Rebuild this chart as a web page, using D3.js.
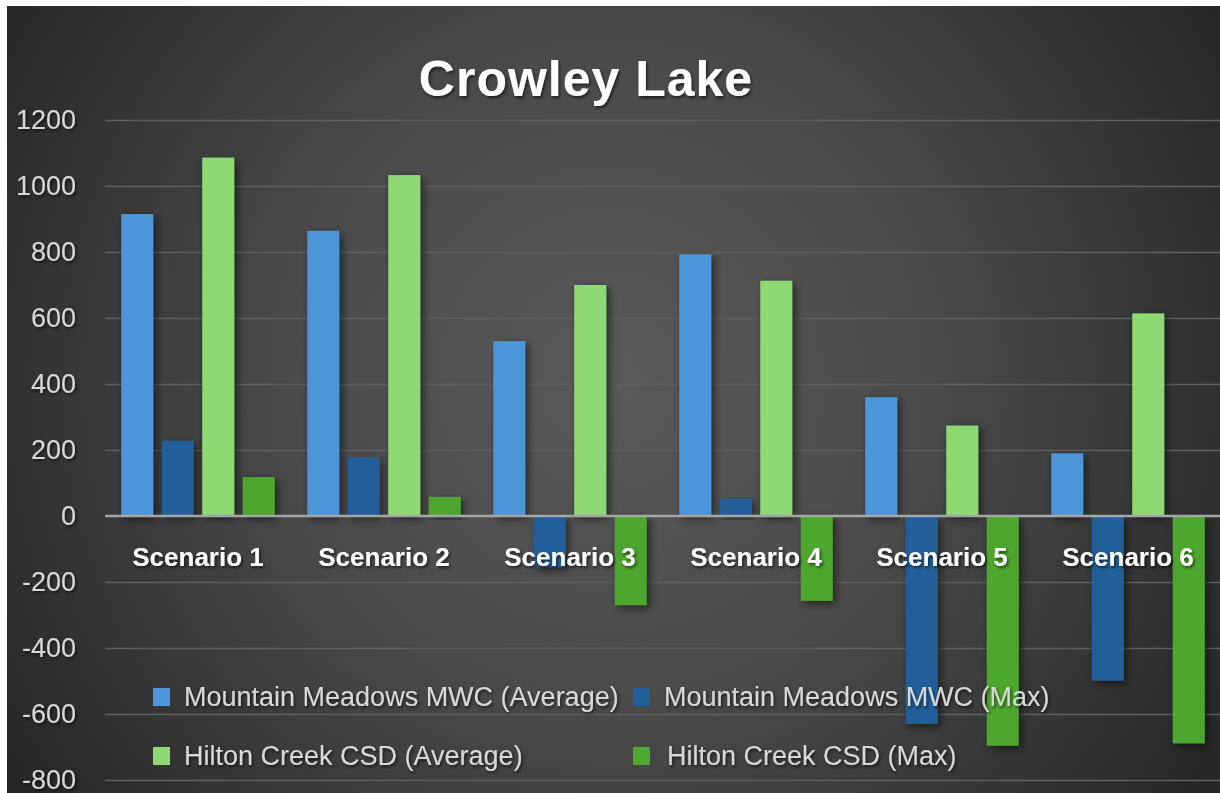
<!DOCTYPE html>
<html>
<head>
<meta charset="utf-8">
<script src="https://cdn.jsdelivr.net/npm/d3@7"></script>
<style>
  html, body { margin: 0; padding: 0; background: #ffffff; }
  svg { display: block; }
</style>
</head>
<body>
<svg id="chart" width="1220" height="793"></svg>
<script>
// ---- data ----
const categories = ["Scenario 1", "Scenario 2", "Scenario 3", "Scenario 4", "Scenario 5", "Scenario 6"];
const seriesNames = ["Mountain Meadows MWC (Average)", "Mountain Meadows MWC (Max)", "Hilton Creek CSD (Average)", "Hilton Creek CSD (Max)"];
const mmAverage = [915, 864, 530, 793, 360, 190];
const mmMax = [228, 177, -155, 52, -630, -499];
const hcAverage = [1086, 1033, 700, 713, 274, 614];
const hcMax = [118, 58, -270, -257, -696, -689];
const yTicks = [-800, -600, -400, -200, 0, 200, 400, 600, 800, 1000, 1200];
const seriesColors = ["#4e95d9", "#215f9a", "#8ed973", "#4ea72e"];
const title = "Crowley Lake";

const seriesValues = [mmAverage, mmMax, hcAverage, hcMax];

// ---- layout ----
const W = 1220, H = 793;
const plot = { left: 105, right: 1221, top: 120, bottom: 780 };

const svg = d3.select("#chart");
const defs = svg.append("defs");

const grad = defs.append("radialGradient")
  .attr("id", "bg").attr("gradientUnits", "userSpaceOnUse")
  .attr("cx", 610).attr("cy", 380).attr("r", 720);
grad.append("stop").attr("offset", "0%").attr("stop-color", "#5a5a5a");
grad.append("stop").attr("offset", "45%").attr("stop-color", "#4a4a4a");
grad.append("stop").attr("offset", "100%").attr("stop-color", "#262626");

const shadow = defs.append("filter").attr("id", "barShadow")
  .attr("x", "-30%").attr("y", "-10%").attr("width", "170%").attr("height", "130%");
shadow.append("feDropShadow").attr("dx", 3).attr("dy", 3).attr("stdDeviation", 4)
  .attr("flood-color", "#000").attr("flood-opacity", 0.55);

const tshadow = defs.append("filter").attr("id", "textShadow")
  .attr("x", "-10%").attr("y", "-20%").attr("width", "130%").attr("height", "150%");
tshadow.append("feDropShadow").attr("dx", 1.5).attr("dy", 2).attr("stdDeviation", 1.5)
  .attr("flood-color", "#000").attr("flood-opacity", 0.6);

// background
svg.append("rect").attr("x", 7).attr("y", 6).attr("width", W - 7).attr("height", H - 6)
  .attr("fill", "url(#bg)");

// scales
const y = d3.scaleLinear().domain([-800, 1200]).range([plot.bottom, plot.top]);
const x0 = d3.scaleBand().domain(categories).range([plot.left, plot.right])
  .paddingInner(0.175).paddingOuter(0.0875);
const x1 = d3.scaleBand().domain(d3.range(seriesNames.length)).range([0, x0.bandwidth()])
  .paddingInner(0.21).paddingOuter(0);

// gridlines
const yAxisGrid = d3.axisLeft(y).tickValues(yTicks).tickSize(-(plot.right - plot.left)).tickFormat("");
const grid = svg.append("g").attr("transform", `translate(${plot.left},0)`).call(yAxisGrid);
grid.select(".domain").remove();
grid.selectAll(".tick line").attr("stroke", "#5f5f5f").attr("stroke-width", 1.5)
  .attr("opacity", d => d === 0 ? 0 : 1);

// y tick labels
const yAxis = d3.axisLeft(y).tickValues(yTicks).tickSize(0).tickPadding(0).tickFormat(d => String(d));
const ya = svg.append("g").attr("transform", `translate(76,0)`).call(yAxis);
ya.select(".domain").remove();
ya.selectAll(".tick text")
  .attr("fill", "#d9d9d9")
  .attr("font-family", "'Liberation Sans', Arial, sans-serif")
  .attr("font-size", 27)
  .attr("filter", "url(#textShadow)");

// bars
const data = [];
categories.forEach((c, i) => {
  seriesValues.forEach((vals, s) => data.push({ cat: c, s, v: vals[i] }));
});

svg.append("g").selectAll("rect").data(data).join("rect")
  .attr("x", d => x0(d.cat) + x1(d.s))
  .attr("width", x1.bandwidth())
  .attr("y", d => y(Math.max(0, d.v)))
  .attr("height", d => Math.abs(y(d.v) - y(0)))
  .attr("fill", d => seriesColors[d.s])
  .attr("filter", "url(#barShadow)");

// zero line
svg.append("line")
  .attr("x1", plot.left).attr("x2", plot.right)
  .attr("y1", y(0)).attr("y2", y(0))
  .attr("stroke", "#a6a6a6").attr("stroke-width", 2.5);

// category labels
const xAxis = d3.axisBottom(x0).tickSize(0).tickPadding(0);
const xa = svg.append("g").attr("transform", `translate(0,${y(0) + 50})`).call(xAxis);
xa.select(".domain").remove();
xa.selectAll(".tick text")
  .attr("dy", 0)
  .attr("fill", "#ffffff")
  .attr("font-family", "'Liberation Sans', Arial, sans-serif")
  .attr("font-weight", "bold")
  .attr("font-size", 26)
  .attr("filter", "url(#textShadow)");

// title
svg.append("text")
  .attr("x", 586).attr("y", 96)
  .attr("text-anchor", "middle")
  .attr("fill", "#ffffff")
  .attr("font-family", "'Liberation Sans', Arial, sans-serif")
  .attr("font-weight", "bold")
  .attr("font-size", 50)
  .attr("letter-spacing", 1)
  .attr("filter", "url(#textShadow)")
  .text(title);

// legend
const legendPos = [
  { x: 153, y: 697 }, { x: 633, y: 697 },
  { x: 153, y: 756 }, { x: 633, y: 756 }
];
const lg = svg.append("g").selectAll("g").data(seriesNames).join("g")
  .attr("transform", (d, i) => `translate(${legendPos[i].x},${legendPos[i].y})`);
lg.append("rect").attr("x", 0).attr("y", -9).attr("width", 17).attr("height", 18)
  .attr("fill", (d, i) => seriesColors[i]);
lg.append("text").attr("x", (d, i) => i === 3 ? 34 : 31).attr("y", 0).attr("dy", "0.35em")
  .attr("fill", "#d9d9d9")
  .attr("font-family", "'Liberation Sans', Arial, sans-serif")
  .attr("font-size", 27)
  .attr("filter", "url(#textShadow)")
  .text(d => d);
</script>
</body>
</html>
